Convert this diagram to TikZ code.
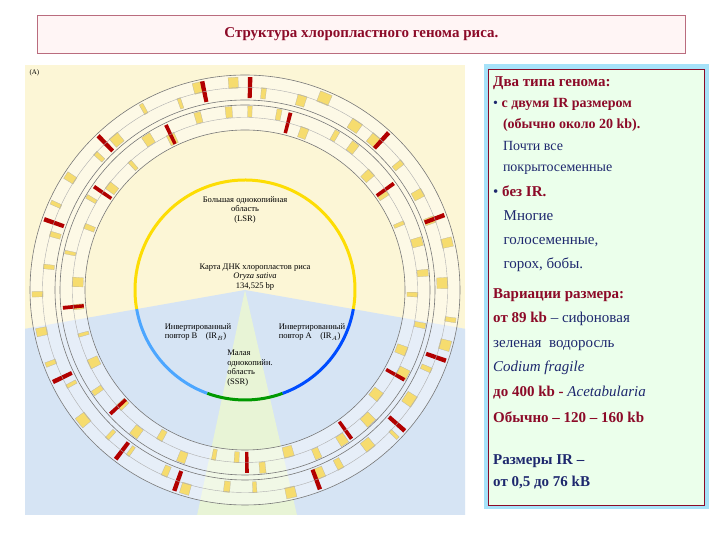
\documentclass[tikz,border=0pt]{standalone}
\usepackage{fontspec}
\setmainfont{Liberation Serif}
\usetikzlibrary{arrows.meta}
\definecolor{dred}{RGB}{140,10,40}
\definecolor{navy}{RGB}{30,40,110}
\definecolor{pyel}{RGB}{252,246,214}
\definecolor{pblue}{RGB}{214,228,244}
\definecolor{pgreen}{RGB}{232,244,214}
\definecolor{ring}{RGB}{120,120,120}
\definecolor{gene}{RGB}{246,220,110}
\tikzset{
 title/.style={draw=dred!60,fill=pink!15,line width=0.8pt},
 panel/.style={draw=dred,fill=green!8,line width=0.6pt},
 lab/.style={font=\fontsize{8.5}{9.5}\selectfont,align=center,inner sep=1pt},
 ptxt/.style={anchor=north west,align=left,inner sep=0pt}
}
\begin{document}
\begin{tikzpicture}[x=1pt,y=1pt]
\useasboundingbox (0,0) rectangle (720,540);
\fill[white] (0,0) rectangle (720,540);
\node[title,minimum width=648,minimum height=38,anchor=north west] (t) at (37,525) {};
\node[font=\bfseries\fontsize{15}{17}\selectfont,text=dred] (tt) at (t.center) {Структура хлоропластного генома риса.};
% map
\begin{scope}
\clip (25,25) rectangle (465,475);
\fill[pyel] (25,25) rectangle (465,475);
\fill[pblue] (245,250) -- ++(190:400) arc (190:350:400) -- cycle;
\fill[pgreen] (245,250) -- ++(258:400) arc (258:283:400) -- cycle;
\end{scope}
\node[font=\fontsize{7}{7}\selectfont,anchor=north west] (A) at (26,474) {(A)};
\fill[white,opacity=0.4,even odd rule] (245,250) circle (215) circle (160);
\pgfmathsetseed{7}
\foreach \a in {0,9,...,359}{
 \pgfmathsetmacro{\w}{1+2.5*rnd}
 \pgfmathsetmacro{\o}{3*rnd}
 \pgfmathsetmacro{\h}{rnd>0.5?1:0}
 \pgfmathsetmacro{\ri}{\h>0?202:192}
 \fill[gene,draw=ring!60,line width=0.2pt] (245,250) ++(\a+\o:\ri) -- ++(\a+\o:11) arc (\a+\o:\a+\o+\w:\ri+11) -- ++(\a+\o+\w:-11) -- cycle;
 \pgfmathsetmacro{\w}{1+2.5*rnd}
 \pgfmathsetmacro{\o}{4+3*rnd}
 \pgfmathsetmacro{\ri}{rnd>0.5?173:162}
 \fill[gene,draw=ring!60,line width=0.2pt] (245,250) ++(\a+\o:\ri) -- ++(\a+\o:11) arc (\a+\o:\a+\o+\w:\ri+11) -- ++(\a+\o+\w:-11) -- cycle;
}
\foreach \a in {20,47,88,101,133,160,205,232,250,290,318,340}{
 \fill[red!70!black] (245,250) ++(\a:192) -- ++(\a:21) arc (\a:\a+1.2:213) -- ++(\a+1.2:-21) -- cycle;
}
\foreach \a in {35,75,115,145,185,222,270,305,330}{
 \fill[red!70!black] (245,250) ++(\a:162) -- ++(\a:21) arc (\a:\a+1.2:183) -- ++(\a+1.2:-21) -- cycle;
}
\foreach \r in {215,190,185,160}{\draw[ring,line width=0.6pt] (245,250) circle (\r);}
\foreach \r in {202.5,172.5}{\draw[ring!60,line width=0.4pt] (245,250) circle (\r);}
% inner circle
\draw[yellow!80!orange,line width=3pt] (245,250) ++(-10:110) arc (-10:190:110);
\draw[blue!50!cyan!70,line width=3pt] (245,250) ++(190:110) arc (190:250:110);
\draw[green!60!black,line width=3pt] (245,250) ++(250:110) arc (250:290:110);
\draw[blue!70!cyan,line width=3pt] (245,250) ++(290:110) arc (290:350:110);
\node[lab] (lsr) at (245,330) {Большая однокопийная\\область\\(LSR)};
\node[lab] (map) at (255,263) {Карта ДНК хлоропластов риса\\\textit{Oryza sativa}\\134,525 bp};
\node[lab,align=left] (irb) at (198,208) {Инвертированный\\повтор B\quad (IR$_B$)};
\node[lab,align=left] (ira) at (312,208) {Инвертированный\\повтор A\quad (IR$_A$)};
\node[lab,align=left] (ssr) at (250,172) {Малая\\однокопийн.\\область\\(SSR)};
% panel
\draw[cyan!35,line width=5pt] (486,33) rectangle (706,473);
\node[panel,minimum width=216,minimum height=436,anchor=north west] (p) at (488,471) {};
\node[ptxt,font=\bfseries\fontsize{15}{18}\selectfont,text=dred] (p1) at (493,464) {Два типа генома:};
\node[ptxt,font=\fontsize{14}{21.5}\selectfont] (p2) at (493,442) {\textcolor{navy}{•} \textcolor{dred}{\bfseries с двумя IR размером}\\ \hspace*{0.7em}\textcolor{dred}{\bfseries (обычно около 20 kb).}\\ \hspace*{0.7em}\textcolor{navy}{Почти все}\\ \hspace*{0.7em}\textcolor{navy}{покрытосеменные}};
\node[ptxt,font=\fontsize{15}{24}\selectfont] (p3) at (493,354) {\textcolor{navy}{•} \textcolor{dred}{\bfseries без IR.}\\ \hspace*{0.7em}\textcolor{navy}{Многие}\\ \hspace*{0.7em}\textcolor{navy}{голосеменные,}\\ \hspace*{0.7em}\textcolor{navy}{горох, бобы.}};
\node[ptxt,font=\fontsize{15}{24.5}\selectfont] (p4) at (493,252) {\textcolor{dred}{\bfseries Вариации размера:}\\ \textcolor{dred}{\bfseries от 89 kb} \textcolor{navy}{– сифоновая}\\ \textcolor{navy}{зеленая\ \ водоросль}\\ \textcolor{navy}{\itshape Codium fragile}\\ \textcolor{dred}{\bfseries до 400 kb -} \textcolor{navy}{\itshape Acetabularia}};
\node[ptxt,font=\bfseries\fontsize{15}{18}\selectfont,text=dred] (p5) at (493,128) {Обычно – 120 – 160 kb};
\node[ptxt,font=\bfseries\fontsize{15}{22}\selectfont,text=navy] (p6) at (493,86) {Размеры IR –\\от 0,5 до 76 kB};
\end{tikzpicture}
\end{document}
